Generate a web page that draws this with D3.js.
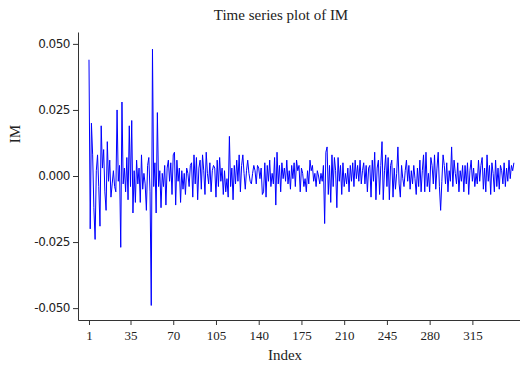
<!DOCTYPE html>
<html>
<head>
<meta charset="utf-8">
<script src="https://cdn.jsdelivr.net/npm/d3@7"></script>
<style>
  body { margin: 0; background: #fff; }
  svg text { font-family: "Liberation Serif", "DejaVu Serif", serif; fill: #222; }
</style>
</head>
<body>
<div id="chart"></div>
<script>
// IM series
const imValues = [
  0.044, -0.020, 0.020, 0.008, -0.012, -0.024, 0.002, 0.008, -0.004, -0.019,
  0.019, 0.003, 0.010, -0.006, -0.013, 0.013, -0.002, 0.006, -0.008, -0.003,
  0.002, -0.004, -0.006, 0.025, -0.002, 0.004, -0.027, 0.028, -0.003, 0.003,
  -0.006, 0.007, -0.009, 0.019, -0.004, 0.021, -0.014, 0.002, -0.010, 0.006,
  -0.003, 0.003, -0.010, 0.008, -0.005, 0.001, -0.003, -0.013, 0.004, 0.007,
  -0.006, -0.049, 0.048, -0.004, 0.005, -0.014, 0.024, -0.004, 0.002, -0.012,
  0.001, -0.004, 0.004, -0.011, 0.003, 0.006, -0.002, 0.005, -0.007, 0.008,
  0.009, -0.011, 0.006, -0.002, 0.003, -0.010, 0.002, -0.005, 0.001, -0.007,
  0.003, 0.001, -0.004, 0.004, 0.005, -0.008, 0.008, -0.003, 0.007, -0.009,
  0.003, 0.006, -0.005, 0.008, 0.002, -0.007, 0.009, 0.001, -0.003, 0.005,
  -0.006, 0.002, 0.004, 0.003, -0.008, 0.006, -0.004, 0.007, -0.002, 0.003,
  -0.007, 0.002, -0.006, -0.001, -0.008, 0.015, -0.004, 0.003, -0.009, 0.004,
  -0.003, 0.006, -0.002, 0.008, -0.006, 0.004, 0.008, 0.001, -0.005, 0.002,
  0.006, 0.001, -0.002, -0.003, 0.001, 0.004, 0.002, -0.003, 0.004, 0.003,
  -0.001, 0.003, -0.007, -0.006, 0.005, -0.008, 0.004, -0.002, 0.006, -0.004,
  0.001, -0.003, 0.007, -0.011, 0.009, -0.003, 0.004, -0.006, 0.005, -0.001,
  0.003, -0.002, 0.006, -0.003, 0.002, -0.005, 0.004, -0.001, 0.005, -0.004,
  0.006, 0.002, 0.004, -0.006, 0.003, 0.001, -0.004, -0.001, -0.006, 0.002,
  -0.003, 0.006, 0.002, 0.004, -0.002, 0.001, -0.004, 0.002, 0.000, -0.003,
  0.001, -0.002, 0.004, -0.018, 0.009, 0.011, -0.007, 0.004, -0.010, 0.008,
  -0.004, 0.007, 0.002, -0.012, 0.007, -0.002, 0.004, -0.007, 0.005, -0.004,
  0.001, -0.003, 0.003, -0.006, 0.004, -0.002, 0.005, -0.004, 0.006, -0.001,
  0.004, -0.002, 0.006, -0.003, 0.002, 0.005, -0.003, 0.004, -0.006, 0.003,
  0.004, -0.008, 0.006, -0.002, 0.009, -0.009, 0.003, 0.006, -0.007, 0.004,
  0.013, -0.009, 0.002, 0.008, -0.004, 0.007, -0.009, 0.004, 0.006, -0.008,
  0.003, -0.005, 0.001, 0.011, -0.003, -0.008, 0.004, -0.001, -0.004, 0.002,
  0.006, -0.002, 0.004, -0.005, 0.002, -0.003, 0.004, -0.001, -0.007, 0.003,
  -0.004, 0.006, -0.006, 0.002, 0.008, -0.006, 0.009, -0.004, 0.001, -0.006,
  0.007, 0.004, -0.003, 0.008, -0.005, 0.003, 0.009, -0.004, -0.013, -0.002,
  0.008, 0.004, -0.003, 0.005, -0.006, 0.002, -0.002, 0.011, -0.004, 0.006,
  0.001, -0.003, 0.005, -0.006, 0.002, -0.002, 0.004, -0.006, 0.004, -0.003,
  0.005, -0.007, 0.002, 0.006, -0.002, 0.003, -0.004, 0.001, -0.003, 0.006,
  -0.002, 0.004, 0.007, -0.005, 0.003, -0.006, 0.008, -0.002, 0.004, -0.007,
  0.005, 0.001, -0.006, 0.006, -0.004, 0.003, -0.005, 0.004, 0.002, -0.003,
  0.005, -0.004, 0.003, -0.002, 0.006, -0.001, 0.004, 0.002, 0.005
];
const xTicks = [1, 35, 70, 105, 140, 175, 210, 245, 280, 315];
const yTicks = [-0.05, -0.025, 0, 0.025, 0.05];

const width = 520, height = 365;
const margin = { top: 32, right: 0, bottom: 45, left: 78 };

const svg = d3.select('#chart').append('svg')
  .attr('width', width)
  .attr('height', height);

const x = d3.scaleLinear().domain([-8, 354]).range([margin.left, width - margin.right]);
const y = d3.scaleLinear().domain([-0.0545, 0.0545]).range([height - margin.bottom, margin.top]);

// y labels use a plain hyphen, like the original
const yFormat = d => d3.format('.3f')(d).replace('\u2212', '-');

// axes
svg.append('g')
  .attr('transform', 'translate(0,' + (height - margin.bottom) + ')')
  .call(d3.axisBottom(x).tickValues(xTicks).tickFormat(d3.format('d')).tickSize(5).tickSizeOuter(0))
  .call(g => g.selectAll('text').style('font-size', '13px').attr('dy', '0.9em'))
  .call(g => g.selectAll('path, line').attr('stroke', '#333'));

svg.append('g')
  .attr('transform', 'translate(' + margin.left + ',0)')
  .call(d3.axisLeft(y).tickValues(yTicks).tickFormat(yFormat).tickSize(5).tickSizeOuter(0))
  .call(g => g.selectAll('text')
    .style('font-family', '"DejaVu Sans", "Liberation Sans", sans-serif')
    .style('font-size', '12px')
    .attr('letter-spacing', '-0.5px'))
  .call(g => g.selectAll('path, line').attr('stroke', '#333'));

// line
const line = d3.line()
  .x((d, i) => x(i + 1))
  .y(d => y(d));

svg.append('path')
  .datum(imValues)
  .attr('fill', 'none')
  .attr('stroke', '#0000ff')
  .attr('stroke-width', 1)
  .attr('d', line);

// labels
svg.append('text')
  .attr('x', 281).attr('y', 20)
  .attr('text-anchor', 'middle')
  .style('font-size', '15px')
  .text('Time series plot of IM');

svg.append('text')
  .attr('x', 285).attr('y', 360)
  .attr('text-anchor', 'middle')
  .style('font-size', '15px')
  .text('Index');

svg.append('text')
  .attr('transform', 'translate(20,134) rotate(-90)')
  .attr('text-anchor', 'middle')
  .style('font-size', '15px')
  .text('IM');
</script>
</body>
</html>
